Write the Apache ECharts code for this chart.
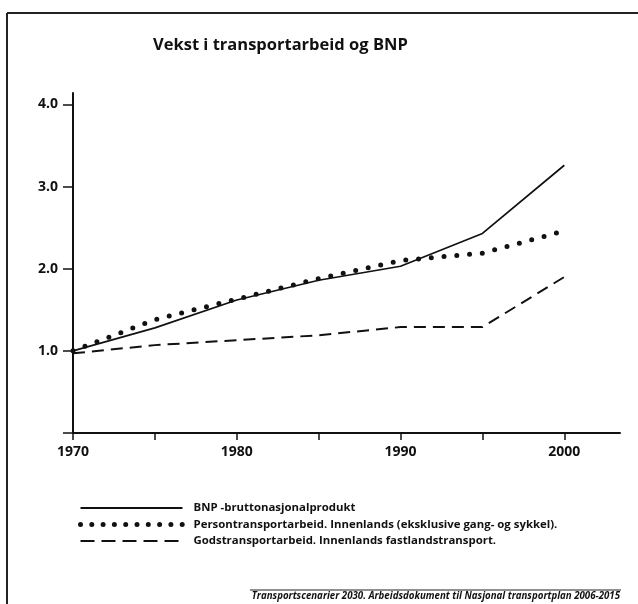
<!DOCTYPE html>
<html>
<head>
<meta charset="utf-8">
<script src="https://cdn.jsdelivr.net/npm/echarts@6/dist/echarts.min.js"></script>
<style>
  html, body { margin: 0; padding: 0; background: #fff; }
  #main { width: 638px; height: 604px; }
</style>
</head>
<body>
<div id="main"></div>
<script>
var years = [1970, 1975, 1980, 1985, 1990, 1995, 2000];
var bnp = [1.0, 1.28, 1.62, 1.86, 2.03, 2.43, 3.26];
var person = [1.0, 1.38, 1.63, 1.88, 2.10, 2.19, 2.46];
var gods = [0.97, 1.07, 1.13, 1.19, 1.29, 1.29, 1.90];
var names = [
  'BNP -bruttonasjonalprodukt',
  'Persontransportarbeid. Innenlands (eksklusive gang- og sykkel).',
  'Godstransportarbeid. Innenlands fastlandstransport.'
];
var yTicks = [0, 1, 2, 3, 4];
var yLabels = [1, 2, 3, 4];
var xTicks = [1970, 1975, 1980, 1985, 1990, 1995, 2000];
var xLabels = [1970, 1980, 1990, 2000];

function pairs(vals) {
  return years.map(function (y, i) { return [y, vals[i]]; });
}

var font = '"Open Sans", sans-serif';
var myChart = echarts.init(document.getElementById('main'));
var option = {
  backgroundColor: '#fff',
  animation: false,
  title: {
    text: 'Vekst i transportarbeid og BNP',
    left: 148,
    top: 32,
    textStyle: { fontFamily: font, fontSize: 16.5, fontWeight: 'bold', color: '#111' }
  },
  grid: { left: 73, right: 18, top: 93, bottom: 171 },
  xAxis: {
    type: 'value',
    min: 1970,
    max: 2003.4,
    interval: 5,
    splitLine: { show: false },
    axisLine: { lineStyle: { color: '#111', width: 2 } },
    axisTick: { customValues: xTicks, length: 7, lineStyle: { color: '#111', width: 1.5 } },
    axisLabel: {
      customValues: xLabels,
      margin: 12,
      color: '#111',
      fontFamily: font,
      fontSize: 14,
      fontWeight: 'bold',
      formatter: function (v) { return String(v); }
    }
  },
  yAxis: {
    type: 'value',
    min: 0,
    max: 4.14,
    interval: 1,
    splitLine: { show: false },
    axisLine: { show: true, lineStyle: { color: '#111', width: 2 } },
    axisTick: { show: true, customValues: yTicks, length: 10, lineStyle: { color: '#111', width: 1.5 } },
    axisLabel: {
      customValues: yLabels,
      margin: 15,
      color: '#111',
      fontFamily: font,
      fontSize: 14,
      fontWeight: 'bold',
      formatter: function (v) { return v.toFixed(1); }
    }
  },
  legend: {
    orient: 'vertical',
    left: 73,
    top: 496,
    itemWidth: 102,
    itemHeight: 14,
    itemGap: 2.5,
    itemStyle: { opacity: 0 },
    data: [
      { name: names[0] },
      { name: names[1], lineStyle: { type: [0, 11.3], width: 5, cap: 'round' } },
      { name: names[2], lineStyle: { type: [14, 7], width: 2 } }
    ],
    textStyle: {
      fontFamily: font,
      fontSize: 11.4,
      fontWeight: 'bold',
      color: '#111',
      lineHeight: 14,
      padding: [0, 0, 0, 6]
    }
  },
  series: [
    {
      name: names[0],
      type: 'line',
      symbol: 'none',
      data: pairs(bnp),
      lineStyle: { color: '#111', width: 1.7 },
      itemStyle: { color: '#111' }
    },
    {
      name: names[1],
      type: 'line',
      symbol: 'none',
      data: pairs(person),
      lineStyle: { color: '#111', width: 5, type: [0, 12.8], cap: 'round' },
      itemStyle: { color: '#111' }
    },
    {
      name: names[2],
      type: 'line',
      symbol: 'none',
      data: pairs(gods),
      lineStyle: { color: '#111', width: 2, type: [12, 7] },
      itemStyle: { color: '#111' }
    }
  ],
  graphic: [
    { type: 'line', shape: { x1: 7, y1: 13, x2: 638, y2: 13 }, style: { stroke: '#222', lineWidth: 2 } },
    { type: 'line', shape: { x1: 7, y1: 13, x2: 7, y2: 604 }, style: { stroke: '#222', lineWidth: 2 } },
    { type: 'line', shape: { x1: 250, y1: 590, x2: 621, y2: 590 }, style: { stroke: '#222', lineWidth: 1.2 } },
    {
      type: 'text',
      right: 18,
      top: 591,
      style: {
        text: 'Transportscenarier 2030. Arbeidsdokument til Nasjonal transportplan 2006-2015',
        font: 'italic bold 9.7px "Open Sans", sans-serif',
        fill: '#111'
      }
    }
  ]
};
myChart.setOption(option);
</script>
</body>
</html>
